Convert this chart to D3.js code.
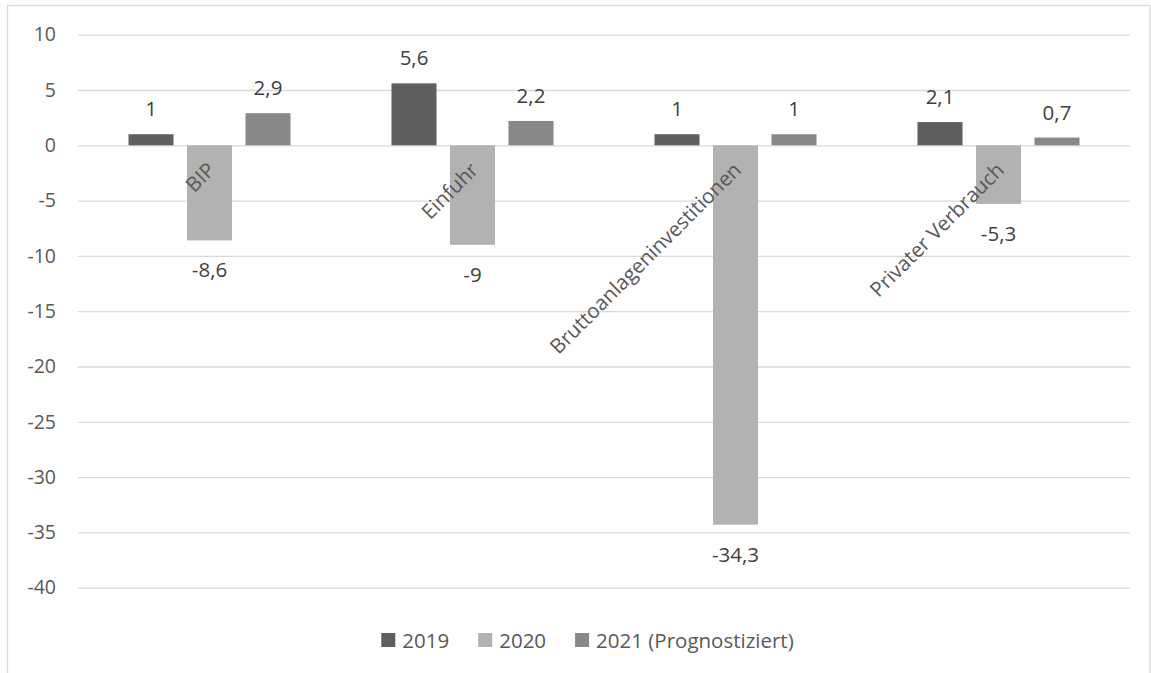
<!DOCTYPE html>
<html>
<head>
<meta charset="utf-8">
<script src="https://cdn.jsdelivr.net/npm/d3@7"></script>
<style>
  html, body { margin: 0; padding: 0; background: #fff; }
  svg { display: block; font-family: "Open Sans", "Noto Sans", sans-serif; }
</style>
</head>
<body>
<svg id="chart" width="1151" height="673"></svg>
<script>
// Wachstumsraten in Prozent
const categories = ["BIP", "Einfuhr", "Bruttoanlageninvestitionen", "Privater Verbrauch"];
const seriesNames = ["2019", "2020", "2021 (Prognostiziert)"];
const values2019 = [1, 5.6, 1, 2.1];
const values2020 = [-8.6, -9, -34.3, -5.3];
const values2021 = [2.9, 2.2, 1, 0.7];
const yTicks = [10, 5, 0, -5, -10, -15, -20, -25, -30, -35, -40];

const seriesValues = [values2019, values2020, values2021];
const colors = ["#5f5f5f", "#b2b2b2", "#888888"];

const svg = d3.select("#chart");
const plot = { left: 78, right: 1130, top: 34.7, bottom: 587.7 };

// Chart frame
svg.append("rect")
  .attr("x", 7.5).attr("y", 5.5)
  .attr("width", 1142.5).attr("height", 700)
  .attr("fill", "#fff").attr("stroke", "#d9d9d9").attr("stroke-width", 1.3);

const y = d3.scaleLinear().domain([-40, 10]).range([plot.bottom, plot.top]);
const x0 = d3.scaleBand().domain(categories).range([plot.left, plot.right]).padding(0);
const x1 = d3.scaleBand().domain(seriesNames)
  .range([0, x0.bandwidth()])
  .paddingInner(0.23).paddingOuter(0.863);

// Gridlines and tick labels (plain hyphen for negatives)
const yAxis = d3.axisLeft(y).tickValues(yTicks)
  .tickSize(-(plot.right - plot.left))
  .tickPadding(22)
  .tickFormat(d => String(d));
const gy = svg.append("g").attr("transform", `translate(${plot.left},0)`).call(yAxis);
gy.select(".domain").remove();
gy.selectAll(".tick line").attr("stroke", "#d9d9d9").attr("stroke-width", 1.3);
gy.selectAll(".tick text")
  .attr("fill", "#595959").attr("font-size", 19.5)
  .attr("font-family", "'Open Sans', sans-serif");

const fmt = v => String(v).replace(".", ",");

// Bars
const groups = svg.append("g").selectAll("g")
  .data(categories)
  .join("g")
  .attr("transform", d => `translate(${x0(d)},0)`);

const rows = (c, i) => seriesNames.map((s, k) => ({ s, k, v: seriesValues[k][i] }));

groups.selectAll("rect")
  .data(rows)
  .join("rect")
  .attr("x", d => x1(d.s))
  .attr("width", x1.bandwidth())
  .attr("y", d => y(Math.max(0, d.v)))
  .attr("height", d => Math.abs(y(d.v) - y(0)))
  .attr("fill", d => colors[d.k]);

// Data labels
groups.selectAll("text.val")
  .data(rows)
  .join("text")
  .attr("class", "val")
  .attr("x", d => x1(d.s) + x1.bandwidth() / 2)
  .attr("y", d => d.v >= 0 ? y(d.v) - 18 : y(d.v) + 37)
  .attr("text-anchor", "middle")
  .attr("fill", "#404040")
  .attr("font-size", 20.5)
  .text(d => fmt(d.v));

// Category labels, rotated
svg.append("g").selectAll("text")
  .data(categories)
  .join("text")
  .attr("transform", d => `translate(${x0(d) + x0.bandwidth() / 2 + 7},${y(0) + 26}) rotate(-45)`)
  .attr("text-anchor", "end")
  .attr("fill", "#595959")
  .attr("font-size", 20.5)
  .text(d => d);

// Legend
const legend = svg.append("g");
const items = legend.selectAll("g")
  .data(seriesNames)
  .join("g");
items.append("rect")
  .attr("width", 14).attr("height", 14)
  .attr("y", 633)
  .attr("fill", (d, i) => colors[i]);
items.append("text")
  .attr("x", 21).attr("y", 647.5)
  .attr("fill", "#595959").attr("font-size", 20.5)
  .text(d => d);
let cursor = 0;
const offsets = [];
items.each(function () {
  offsets.push(cursor);
  const w = d3.select(this).select("text").node().getComputedTextLength();
  cursor += 21 + w + 29;
});
const total = cursor - 29;
const startX = 587.5 - total / 2;
items.attr("transform", (d, i) => `translate(${startX + offsets[i]},0)`);
</script>
</body>
</html>
